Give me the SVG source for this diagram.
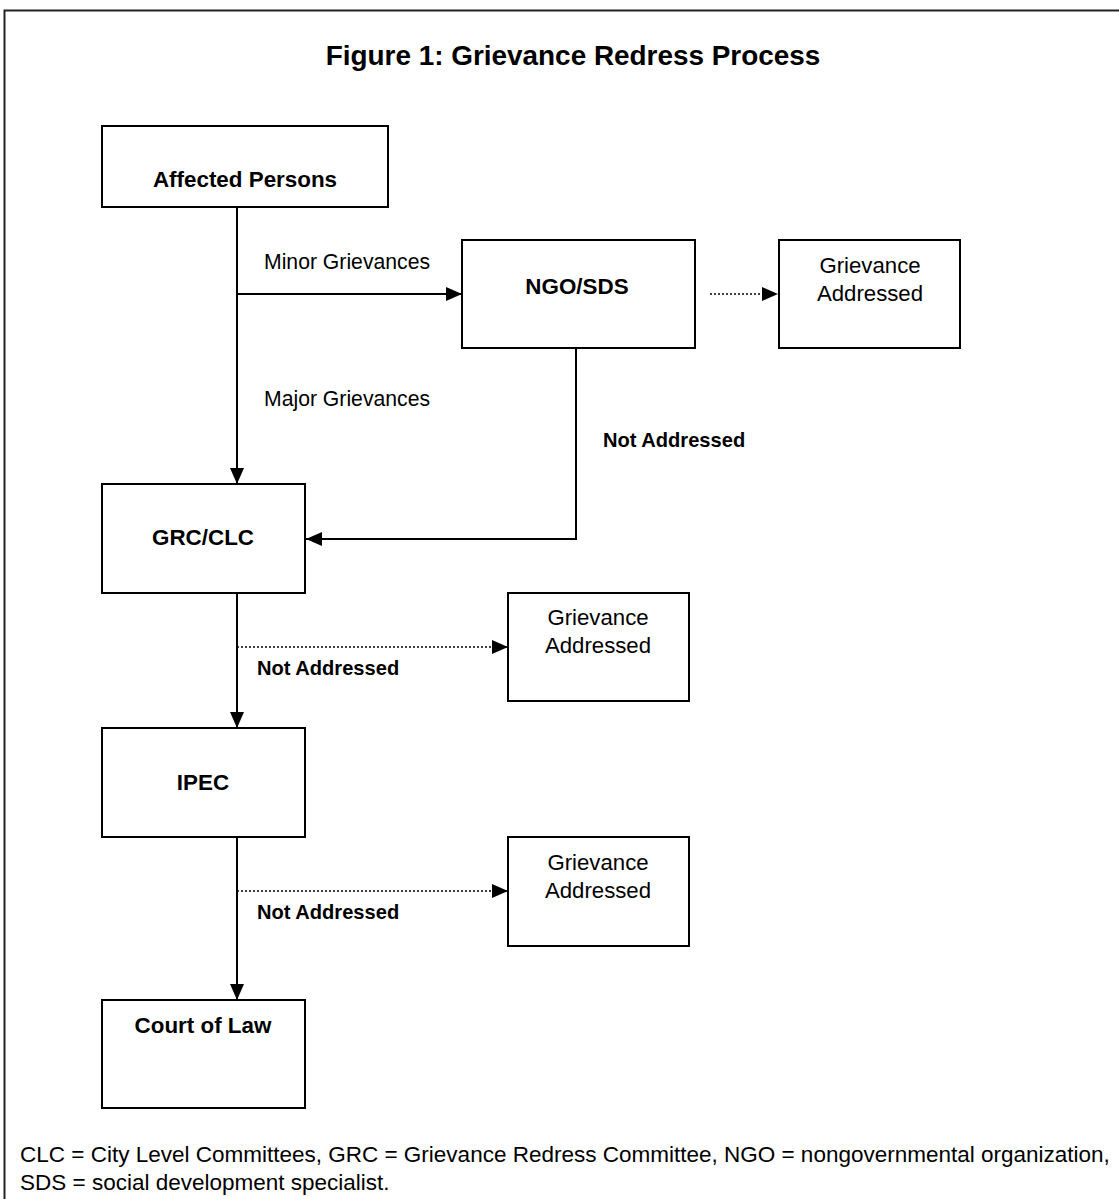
<svg xmlns="http://www.w3.org/2000/svg" width="1119" height="1199" viewBox="0 0 1119 1199">
<defs>
<style>
.box{fill:#fff;stroke:#000;stroke-width:2}
.t{font-family:"Liberation Sans",Arial,sans-serif;fill:#000}
.b{font-weight:bold;font-size:22.4px}
.r{font-size:21.2px}
.g{font-size:22.2px}
.na{font-weight:bold;font-size:20.1px}
.solid{fill:none;stroke:#000;stroke-width:2}
.dot{fill:none;stroke:#000;stroke-width:1.6;stroke-dasharray:2 2}
</style>
<marker id="ah" markerUnits="userSpaceOnUse" markerWidth="18" markerHeight="14" refX="16" refY="7" orient="auto">
<path d="M0,0 L16,7 L0,14 Z" fill="#000"/>
</marker>
</defs>
<rect width="1119" height="1199" fill="#fff"/>
<path d="M4.5,1199 V10.5 H1119" fill="none" stroke="#222" stroke-width="2"/>
<text class="t" x="573" y="65" font-size="27.9" font-weight="bold" text-anchor="middle">Figure 1: Grievance Redress Process</text>

<g id="connectors">
<path class="solid" d="M237,207 V484" marker-end="url(#ah)"/>
<path class="solid" d="M237,294 H462" marker-end="url(#ah)"/>
<path class="dot" d="M710,294 H778" marker-end="url(#ah)"/>
<path class="solid" d="M576,348 V539 H306" marker-end="url(#ah)"/>
<path class="solid" d="M237,593 V728" marker-end="url(#ah)"/>
<path class="dot" d="M237,647 H508" marker-end="url(#ah)"/>
<path class="solid" d="M237,837 V1000" marker-end="url(#ah)"/>
<path class="dot" d="M237,891 H508" marker-end="url(#ah)"/>
<text class="t r" x="264" y="269">Minor Grievances</text>
<text class="t r" x="264" y="406">Major Grievances</text>
<text class="t na" x="603" y="447">Not Addressed</text>
<text class="t na" x="257" y="675">Not Addressed</text>
<text class="t na" x="257" y="919">Not Addressed</text>
</g>

<g id="affected-persons">
<rect class="box" x="102" y="126" width="286" height="81"/>
<text class="t b" x="245" y="187" text-anchor="middle">Affected Persons</text>
</g>
<g id="ngo-sds">
<rect class="box" x="462" y="240" width="233" height="108"/>
<text class="t b" x="577" y="294" text-anchor="middle">NGO/SDS</text>
</g>
<g id="addressed-1">
<rect class="box" x="779" y="240" width="181" height="108"/>
<text class="t g" x="870" y="273" text-anchor="middle">Grievance</text>
<text class="t g" x="870" y="301" text-anchor="middle">Addressed</text>
</g>
<g id="grc-clc">
<rect class="box" x="102" y="484" width="203" height="109"/>
<text class="t b" x="203" y="545" text-anchor="middle">GRC/CLC</text>
</g>
<g id="addressed-2">
<rect class="box" x="508" y="593" width="181" height="108"/>
<text class="t g" x="598" y="625" text-anchor="middle">Grievance</text>
<text class="t g" x="598" y="653" text-anchor="middle">Addressed</text>
</g>
<g id="ipec">
<rect class="box" x="102" y="728" width="203" height="109"/>
<text class="t b" x="203" y="790" text-anchor="middle">IPEC</text>
</g>
<g id="addressed-3">
<rect class="box" x="508" y="837" width="181" height="109"/>
<text class="t g" x="598" y="870" text-anchor="middle">Grievance</text>
<text class="t g" x="598" y="898" text-anchor="middle">Addressed</text>
</g>
<g id="court-of-law">
<rect class="box" x="102" y="1000" width="203" height="108"/>
<text class="t b" x="203" y="1033" text-anchor="middle">Court of Law</text>
</g>
<text class="t" x="20" y="1162" font-size="22.5">CLC = City Level Committees, GRC = Grievance Redress Committee, NGO = nongovernmental organization,</text>
<text class="t" x="20" y="1190" font-size="22.5">SDS = social development specialist.</text>
</svg>
